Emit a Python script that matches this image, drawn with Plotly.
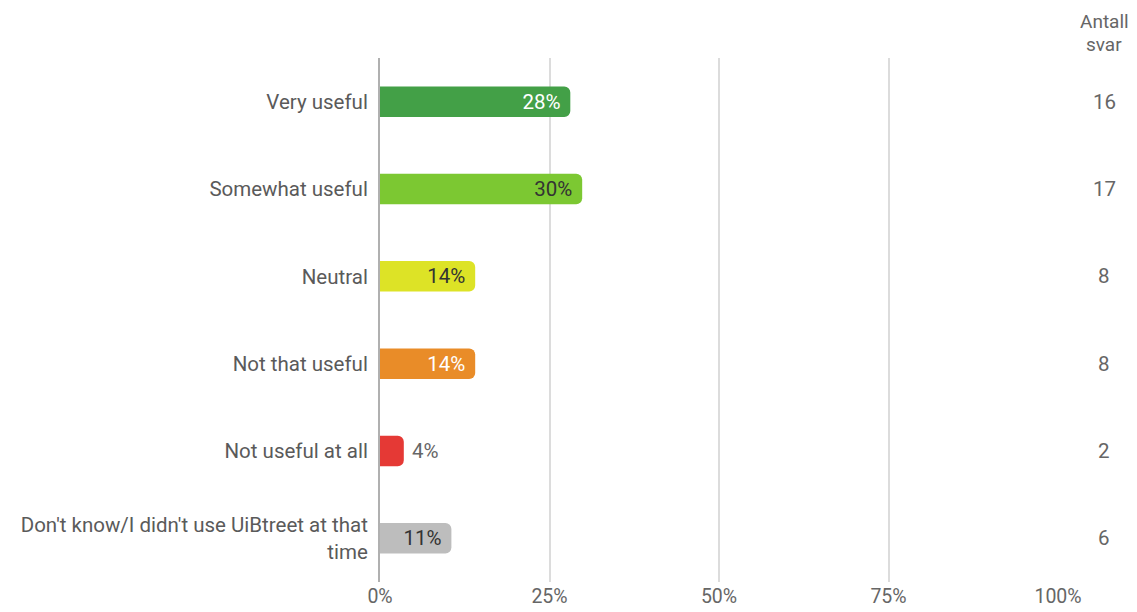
import plotly.graph_objects as go

categories = [
    "Very useful",
    "Somewhat useful",
    "Neutral",
    "Not that useful",
    "Not useful at all",
    "Don't know/I didn't use UiBtreet at that<br>time",
]
percent = [28.07, 29.82, 14.04, 14.04, 3.51, 10.53]
percent_labels = ["28%", "30%", "14%", "14%", "4%", "11%"]
answers = [16, 17, 8, 8, 2, 6]
answers_header = ["Antall", "svar"]
x_ticks = [0, 25, 50, 75, 100]
x_tick_labels = ["0%", "25%", "50%", "75%", "100%"]

bar_colors = ["#43a047", "#7cc832", "#dde326", "#e98c28", "#e53935", "#bdbdbd"]
text_colors = ["#ffffff", "#333333", "#333333", "#ffffff", "#666666", "#333333"]
FONT = "Roboto, sans-serif"
SIZE = 20.5
NBSP = "\u00a0"

inside = "%{text}" + NBSP
fig = go.Figure(
    go.Bar(
        x=percent,
        y=categories,
        orientation="h",
        marker={"color": bar_colors, "line": {"width": 0}},
        text=percent_labels,
        texttemplate=[inside] * 4 + [NBSP + "%{text}", inside],
        textposition=["inside"] * 4 + ["outside", "inside"],
        insidetextanchor="end",
        textfont={"color": text_colors, "family": FONT, "size": SIZE},
        outsidetextfont={"color": "#666666", "family": FONT, "size": SIZE},
        constraintext="none",
        width=0.35,
        cliponaxis=False,
        hoverinfo="skip",
    )
)

# column of answer counts to the right of the plot
annotations = []
for word, ypos in zip(answers_header, [1.069, 1.025]):
    annotations.append(
        dict(
            text=word, xref="paper", yref="paper", x=1.068, y=ypos,
            xanchor="center", yanchor="middle", showarrow=False,
            font={"size": 19, "color": "#666666", "family": FONT},
        )
    )
for cat, n in zip(categories, answers):
    annotations.append(
        dict(
            text=str(n), xref="paper", yref="y", x=1.068, y=cat,
            xanchor="center", yanchor="middle", showarrow=False,
            font={"size": SIZE, "color": "#666666", "family": FONT},
        )
    )

# page body has an 8px margin, so the figure is shrunk by that much
fig.update_layout(
    width=1129,
    height=604,
    margin={"l": 372, "r": 79, "t": 50, "b": 30, "autoexpand": False},
    paper_bgcolor="white",
    plot_bgcolor="white",
    showlegend=False,
    barcornerradius=6,
    font={"family": FONT, "size": SIZE, "color": "#666666"},
    annotations=annotations,
    xaxis=dict(
        range=[0, 100],
        tickvals=x_ticks,
        ticktext=x_tick_labels,
        showgrid=True,
        gridcolor="#dcdcdc",
        gridwidth=2,
        zeroline=False,
        showline=False,
        ticks="",
        automargin=False,
        ticklabelstandoff=0,
        tickfont={"size": 19.5, "color": "#666666"},
        fixedrange=True,
    ),
    yaxis=dict(
        autorange="reversed",
        showline=True,
        linecolor="#b0b0b0",
        linewidth=2,
        showgrid=False,
        ticks="",
        automargin=False,
        ticklabelstandoff=6,
        tickfont={"size": SIZE, "color": "#5a5a5a"},
        fixedrange=True,
    ),
)

fig.write_html("out.html")
